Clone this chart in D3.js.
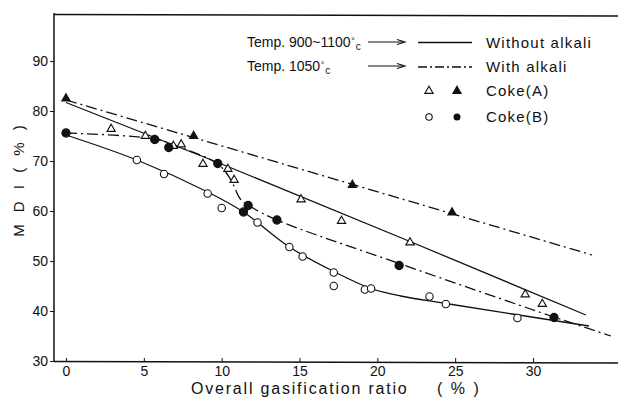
<!DOCTYPE html>
<html>
<head>
<meta charset="utf-8">
<script src="https://cdn.jsdelivr.net/npm/d3@7"></script>
<style>
  body { margin: 0; background: #fff; }
  svg text { font-family: "Liberation Sans", Arial, sans-serif; fill: #111; }
</style>
</head>
<body>
<svg id="chart" width="618" height="408"></svg>
<script>
// gasification ratio (%) vs MDI (%)
const openTriA = [[2.9, 76.4], [5.1, 75.0], [6.9, 73.0], [7.4, 73.3], [8.8, 69.4], [10.4, 68.4],
  [10.8, 66.2], [15.1, 62.3], [17.7, 58.0], [22.1, 53.7], [29.5, 43.3], [30.6, 41.4]];
const filledTriA = [[0, 82.5], [8.2, 75.0], [18.4, 65.2], [24.8, 59.7]];
const openCircB = [[4.55, 70.2], [6.3, 67.4], [9.1, 63.5], [10.0, 60.6], [12.3, 57.7], [14.35, 52.8],
  [15.2, 50.9], [17.2, 47.7], [17.2, 45.0], [19.2, 44.3], [19.6, 44.5], [23.35, 42.9], [24.4, 41.4], [29.0, 38.6]];
const filledCircB = [[0, 75.6], [5.7, 74.3], [6.6, 72.7], [9.75, 69.5], [11.7, 61.1], [11.4, 59.8],
  [13.55, 58.2], [21.4, 49.1], [31.35, 38.7]];

// fitted curves
const lineA_without = [[0, 81.7], [10, 69.4], [22.1, 53.9], [33.4, 39.2]];
const lineA_with = [[0, 82.2], [33.8, 51.2]];
const lineB_without = [[0, 75.2], [4.55, 70.2], [9.1, 63.8], [11.4, 59.8], [14.35, 52.8], [17.2, 47.9],
  [19.6, 44.5], [21.5, 43.0], [24.4, 41.5], [33.6, 37.0]];
const lineB_with = [[0, 75.6], [5.7, 74.4], [7.2, 72.9], [9.75, 69.4], [10.6, 66.2], [11.2, 62.4],
  [11.9, 60.8], [13.55, 58.2], [21.4, 49.5], [31.35, 38.8], [35, 35.0]];

const xTicks = [0, 5, 10, 15, 20, 25, 30];
const yTicks = [30, 40, 50, 60, 70, 80, 90];

const svg = d3.select('#chart');
const x = d3.scaleLinear().domain([0, 30]).range([66, 533]);
const y = d3.scaleLinear().domain([30, 90]).range([361, 61]);
const axisLeftX = 54;
const axisRightX = 618;
const dashDot = '11,4,2,4';

// frame: left axis, bottom axis, top border
svg.append('line').attr('x1', axisLeftX).attr('x2', axisLeftX).attr('y1', 13).attr('y2', y(30))
  .attr('stroke', '#111').attr('stroke-width', 1.5);
svg.append('line').attr('x1', axisLeftX).attr('x2', axisRightX).attr('y1', y(30) + 0.5).attr('y2', y(30) + 2)
  .attr('stroke', '#111').attr('stroke-width', 1.5);
svg.append('line').attr('x1', axisLeftX).attr('x2', axisRightX).attr('y1', 14.5).attr('y2', 16)
  .attr('stroke', '#111').attr('stroke-width', 1.5);

const yAxisG = svg.append('g').attr('transform', `translate(${axisLeftX},0)`)
  .call(d3.axisLeft(y).tickValues(yTicks).tickSize(4).tickPadding(2));
yAxisG.select('.domain').remove();
yAxisG.selectAll('text').style('font-size', '14px');

const xAxisG = svg.append('g').attr('transform', `translate(0,${y(30) + 1})`)
  .call(d3.axisBottom(x).tickValues(xTicks).tickSize(-4).tickPadding(4));
xAxisG.select('.domain').remove();
xAxisG.selectAll('text').style('font-size', '14px');
xAxisG.selectAll('line, path').attr('stroke', '#111');
yAxisG.selectAll('line').attr('stroke', '#111');

// axis titles
svg.append('text').attr('transform', 'translate(24,179) rotate(-90)')
  .attr('text-anchor', 'middle').style('font-size', '15px').style('letter-spacing', '4px')
  .text('M D I  ( % )');
svg.append('text').attr('x', 191).attr('y', 394).style('font-size', '16px').style('letter-spacing', '1.8px')
  .text('Overall gasification ratio');
svg.append('text').attr('x', 437).attr('y', 394).style('font-size', '16px').style('letter-spacing', '2px')
  .text('( % )');

// curves
const line = d3.line().x((d) => x(d[0])).y((d) => y(d[1]));
const smooth = d3.line().x((d) => x(d[0])).y((d) => y(d[1])).curve(d3.curveCatmullRom.alpha(0.5));

const curves = [
  { data: lineA_without, gen: line, dash: null },
  { data: lineA_with, gen: line, dash: dashDot },
  { data: lineB_without, gen: smooth, dash: null },
  { data: lineB_with, gen: smooth, dash: dashDot },
];
svg.selectAll('.curve').data(curves).join('path')
  .attr('class', 'curve')
  .attr('d', (d) => d.gen(d.data))
  .attr('fill', 'none')
  .attr('stroke', '#111')
  .attr('stroke-width', 1.3)
  .attr('stroke-dasharray', (d) => d.dash);

// markers
const tri = d3.symbol().type(d3.symbolTriangle).size(30);
function drawTriangles(data, filled) {
  svg.append('g').selectAll('path').data(data).join('path')
    .attr('d', tri)
    .attr('transform', (d) => `translate(${x(d[0])},${y(d[1])})`)
    .attr('fill', filled ? '#111' : '#fff')
    .attr('stroke', '#111').attr('stroke-width', 1.1);
}
function drawCircles(data, filled) {
  svg.append('g').selectAll('circle').data(data).join('circle')
    .attr('cx', (d) => x(d[0])).attr('cy', (d) => y(d[1]))
    .attr('r', filled ? 4.1 : 3.7)
    .attr('fill', filled ? '#111' : '#fff')
    .attr('stroke', '#111').attr('stroke-width', 1.1);
}
drawTriangles(openTriA, false);
drawTriangles(filledTriA, true);
drawCircles(openCircB, false);
drawCircles(filledCircB, true);

// legend
const legend = svg.append('g');
function tempLabel(yPos, main) {
  const t = legend.append('text').attr('x', 247).attr('y', yPos).style('font-size', '14px').text(main);
  const w = t.node().getComputedTextLength();
  legend.append('text').attr('x', 247 + w + 0.5).attr('y', yPos - 3).style('font-size', '9px').text('°');
  legend.append('text').attr('x', 247 + w + 5).attr('y', yPos + 3).style('font-size', '10px').text('c');
}
tempLabel(47, 'Temp. 900~1100');
tempLabel(71, 'Temp. 1050');

function arrow(yPos) {
  legend.append('line').attr('x1', 368).attr('x2', 404).attr('y1', yPos).attr('y2', yPos)
    .attr('stroke', '#111').attr('stroke-width', 1);
  legend.append('path').attr('d', `M397,${yPos - 2.5} L405,${yPos} L397,${yPos + 2.5}`)
    .attr('fill', 'none').attr('stroke', '#111').attr('stroke-width', 1.1);
}
arrow(42);
arrow(66);

legend.append('line').attr('x1', 418).attr('x2', 472).attr('y1', 42.5).attr('y2', 42.5)
  .attr('stroke', '#111').attr('stroke-width', 1.3);
legend.append('line').attr('x1', 418).attr('x2', 472).attr('y1', 67).attr('y2', 67)
  .attr('stroke', '#111').attr('stroke-width', 1.3).attr('stroke-dasharray', '9,3,2,3');

const legendText = [
  { label: 'Without alkali', y: 47.5 },
  { label: 'With alkali', y: 72 },
  { label: 'Coke(A)', y: 96 },
  { label: 'Coke(B)', y: 122 },
];
legend.selectAll('.lt').data(legendText).join('text')
  .attr('class', 'lt')
  .attr('x', 486).attr('y', (d) => d.y)
  .style('font-size', '15px').style('letter-spacing', '1.2px')
  .text((d) => d.label);

legend.append('path').attr('d', tri).attr('transform', 'translate(429,91)')
  .attr('fill', '#fff').attr('stroke', '#111').attr('stroke-width', 1.1);
legend.append('path').attr('d', tri).attr('transform', 'translate(457,91)')
  .attr('fill', '#111').attr('stroke', '#111').attr('stroke-width', 1.1);
legend.append('circle').attr('cx', 429).attr('cy', 117).attr('r', 3.2)
  .attr('fill', '#fff').attr('stroke', '#111').attr('stroke-width', 1.1);
legend.append('circle').attr('cx', 457).attr('cy', 117).attr('r', 3.5)
  .attr('fill', '#111');
</script>
</body>
</html>
